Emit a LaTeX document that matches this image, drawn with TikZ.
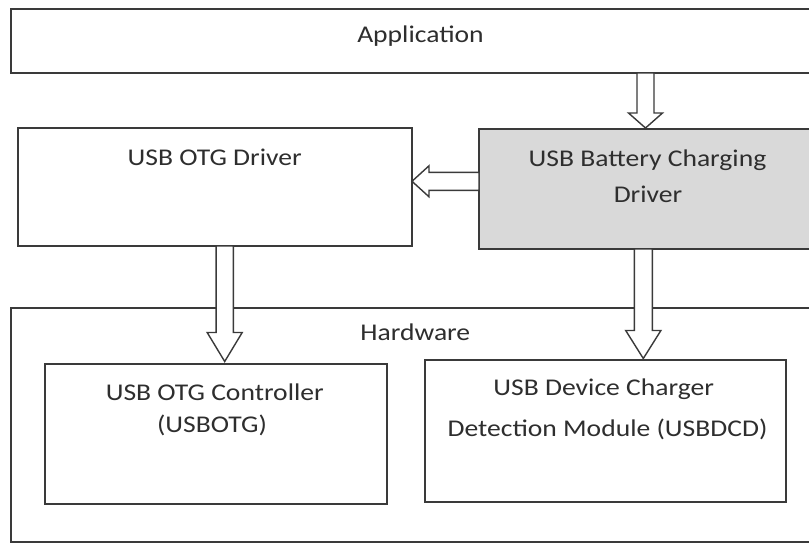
\documentclass[tikz,border=0pt]{standalone}
\usepackage{fontspec}
\setmainfont{Carlito}[FakeStretch=1.15]
\usetikzlibrary{calc}

\definecolor{edge}{HTML}{3A3A3A}
\definecolor{ink}{HTML}{2E2E2E}
\definecolor{shade}{HTML}{D9D9D9}

% hollow block arrow from #1 to #2: shaft half-width #3, head half-width #4, head length #5
\newcommand\blockarrow[5]{%
  \coordinate (ba-h) at ($(#2)!#5!(#1)$);
  \draw[arrowline]
    ($(#1)!#3!90:(#2)$) -- ($(ba-h)!#3!-90:(#1)$) -- ($(ba-h)!#4!-90:(#1)$)
    -- (#2) -- ($(ba-h)!#4!90:(#1)$) -- ($(ba-h)!#3!90:(#1)$)
    -- ($(#1)!#3!-90:(#2)$) -- cycle;
}

\begin{document}
\begin{tikzpicture}[x=1pt,y=-1pt,
  box/.style={draw=edge, line width=1.5pt, fill=white, rectangle,
    inner sep=0pt, outer sep=0pt, anchor=north west},
  txt/.style={text=ink, font=\fontsize{24}{28}\selectfont, inner sep=0pt, anchor=base},
  arrowline/.style={draw=edge, line width=1.4pt, fill=white, line join=miter}]
\useasboundingbox (0,0) rectangle (809,544);
\clip (0,0) rectangle (809,544);

% layers
\node[box, minimum width=810pt, minimum height=64pt]  (app) at (11,9) {};
\node[box, minimum width=394pt, minimum height=118pt] (otg) at (18,128) {};
\node[box, fill=shade, minimum width=340pt, minimum height=120pt] (bcd) at (479,129) {};
\node[box, minimum width=810pt, minimum height=234pt] (hw) at (11,308) {};
\node[box, minimum width=342pt, minimum height=140pt] (ctrl) at (45,364) {};
\node[box, minimum width=361pt, minimum height=142pt] (dcd) at (425,360) {};

% labels
\node[txt] (tapp) at (420.5,42.7) {Application};
\node[txt] (totg) at (214.7,165) {USB OTG Driver};
\node[txt] (tbcd1) at (647.5,166.7) {USB Battery Charging};
\node[txt] (tbcd2) at (648,202.7) {Driver};
\node[txt] (thw) at (415.3,340) {Hardware};
\node[txt] (tctrl1) at (214.8,400) {USB OTG Controller};
\node[txt] (tctrl2) at (212,432.5) {(USBOTG)};
\node[txt] (tdcd1) at (603.7,395) {USB Device Charger};
\node[txt] (tdcd2) at (607.5,436) {Detection Module (USBDCD)};

% arrow positions
\coordinate (xa) at (645.5,0);
\coordinate (xb) at (224.7,0);
\coordinate (xc) at (643.3,0);
\coordinate (yd) at (0,181.3);

\coordinate (a1s) at (app.south -| xa);
\coordinate (a1e) at ($(bcd.north -| xa)+(0,-1)$);
\coordinate (a2s) at (otg.south -| xb);
\coordinate (a2e) at ($(ctrl.north -| xb)+(0,-2.5)$);
\coordinate (a3s) at (bcd.south -| xc);
\coordinate (a3e) at ($(dcd.north -| xc)+(0,-1.5)$);
\coordinate (a4s) at (bcd.west |- yd);
\coordinate (a4e) at (otg.east |- yd);

\blockarrow{a1s}{a1e}{8.5pt}{17pt}{15pt}
\blockarrow{a2s}{a2e}{8.6pt}{17.5pt}{29pt}
\blockarrow{a3s}{a3e}{9pt}{17.6pt}{28pt}
\blockarrow{a4s}{a4e}{9pt}{15.5pt}{17pt}
\end{tikzpicture}
\end{document}
